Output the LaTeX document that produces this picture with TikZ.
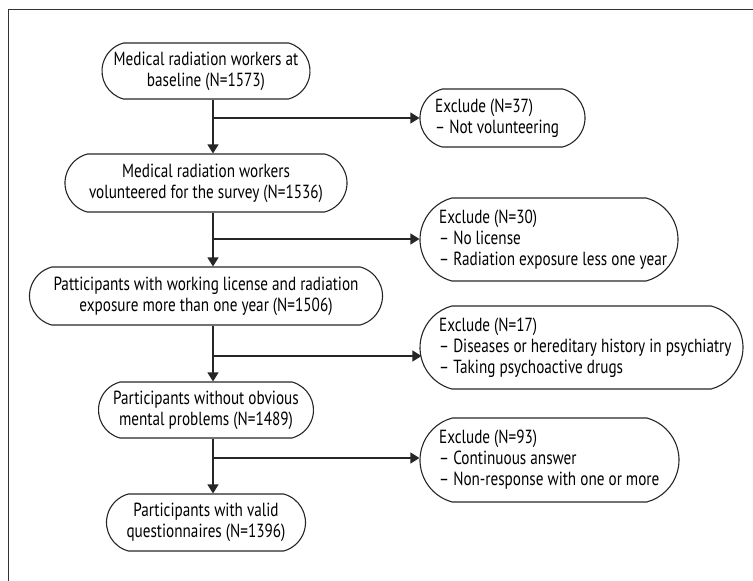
\documentclass[tikz,border=0pt]{standalone}
\usepackage{fontspec}
\setmainfont[FakeStretch=0.80]{PT Sans}
\usetikzlibrary{shapes.misc,arrows.meta}
\begin{document}
\begin{tikzpicture}[x=1pt,y=-1pt,
  txt/.style={font=\fontsize{19}{21}\selectfont,inner sep=0pt},
  mainbox/.style={txt,draw=black!85,line width=1.1pt,rounded rectangle,rounded rectangle arc length=150,align=center},
  exbox/.style={draw=black!85,line width=1.1pt,rounded rectangle,rounded rectangle arc length=150,inner sep=0pt},
  extext/.style={txt,align=left,anchor=west},
  arr/.style={line width=1.1pt,draw=black!85,-{Triangle[length=9pt,width=11pt]}},
  frame/.style={line width=1pt,draw=black!80}]
\useasboundingbox (0,0) rectangle (753,581);
\draw[frame] (8,581) -- (8,9) -- (753,9);

\node[mainbox,minimum width=208pt,minimum height=56pt] (b1) at (206,71) {Medical radiation workers at\\baseline (N=1573)};
\node[mainbox,minimum width=282pt,minimum height=58pt] (b2) at (206,183) {Medical radiation workers\\volunteered for the survey (N=1536)};
\node[mainbox,minimum width=353pt,minimum height=58pt] (b3) at (206,296) {Patticipants with working license and radiation\\exposure more than one year (N=1506)};
\node[mainbox,minimum width=215pt,minimum height=56pt] (b4) at (206,410) {Participants without obvious\\mental problems (N=1489)};
\node[mainbox,minimum width=199pt,minimum height=57pt] (b5) at (206,522.5) {Participants with valid\\questionnaires (N=1396)};

\node[exbox,minimum width=165pt,minimum height=58pt] (e1) at (502.5,118) {};
\node[extext] (e1t) at (435,118) {Exclude (N=37)\\– Not volunteering};
\node[exbox,minimum width=258pt,minimum height=83pt] (e2) at (549,239.5) {};
\node[extext] (e2t) at (439,239.5) {Exclude (N=30)\\– No license\\– Radiation exposure less one year};
\node[exbox,minimum width=323pt,minimum height=83pt] (e3) at (581.5,347.5) {};
\node[extext] (e3t) at (439,347.5) {Exclude (N=17)\\– Diseases or hereditary history in psychiatry\\– Taking psychoactive drugs};
\node[exbox,minimum width=259pt,minimum height=84pt] (e4) at (549.5,460) {};
\node[extext] (e4t) at (439,460) {Exclude (N=93)\\– Continuous answer\\– Non-response with one or more};

\coordinate (sp) at (213,0);
\coordinate (j1) at (213,118);
\coordinate (j2) at (213,239);
\coordinate (j3) at (213,356);
\coordinate (j4) at (213,458);

\draw[arr] (b1.south -| sp) -- (b2.north -| sp);
\draw[arr] (b2.south -| sp) -- (b3.north -| sp);
\draw[arr] (b3.south -| sp) -- (b4.north -| sp);
\draw[arr] (b4.south -| sp) -- (b5.north -| sp);

\draw[arr] (j1) -- (e1.west |- j1);
\draw[arr] (j2) -- (e2.west |- j2);
\draw[arr] (j3) -- ([xshift=2pt]e3.west |- j3);
\draw[arr] (j4) -- (e4.west |- j4);
\end{tikzpicture}
\end{document}
